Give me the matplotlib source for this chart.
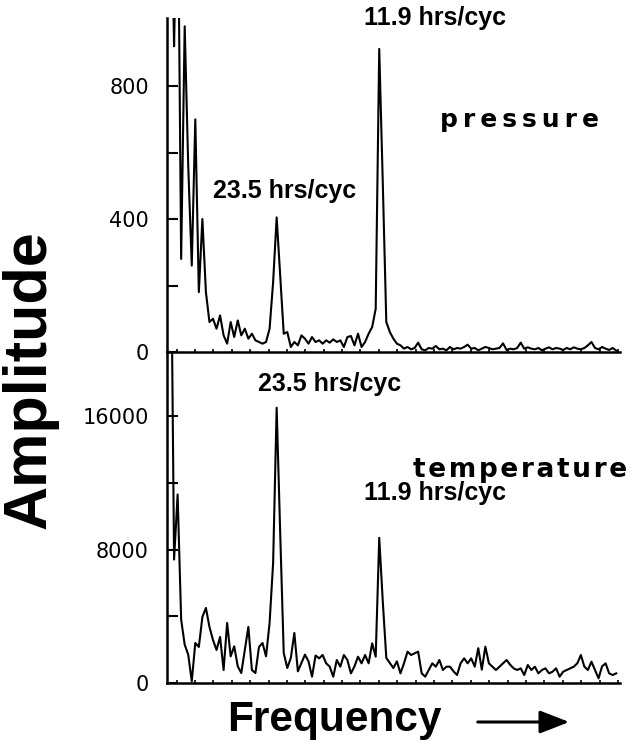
# pressure / temperature amplitude spectra, two stacked panels
import numpy as np
import matplotlib.pyplot as plt
from matplotlib.patches import FancyArrowPatch

# frequency bin index (peaks near bin 31 = 23.5 hrs/cyc, bin 60 = 11.9 hrs/cyc)
freq = np.arange(128)

pressure = [1500, 1500, 920, 1500, 280, 980, 560, 260, 700, 180,
            400, 180, 90, 100, 70, 110, 50, 25, 90, 45,
            95, 50, 70, 40, 55, 35, 30, 25, 30, 70,
            210, 405, 230, 55, 60, 15, 30, 20, 50, 40,
            25, 45, 30, 35, 25, 35, 28, 38, 30, 35,
            15, 45, 48, 20, 55, 15, 30, 55, 75, 130,
            912, 510, 90, 60, 40, 25, 20, 10, 15, 8,
            12, 28, 8, 5, 12, 10, 18, 8, 10, 5,
            15, 8, 12, 10, 15, 22, 10, 12, 5, 10,
            15, 12, 8, 10, 12, 26, 6, 10, 8, 12,
            28, 10, 14, 10, 8, 12, 5, 10, 14, 8,
            12, 10, 6, 12, 8, 14, 10, 8, 12, 20,
            30, 12, 8, 15, 10, 6, 12, 4]

temperature = [30000, 30000, 7400, 11300, 3800, 2300, 1700, 100, 2400, 2160,
               3960, 4500, 3360, 2580, 1980, 2760, 780, 3600, 1600, 2200,
               1000, 600, 1980, 3360, 780, 600, 2160, 2400, 1600, 3600,
               7200, 16500, 9000, 1800, 900, 1500, 3000, 700, 1200, 1700,
               1300, 380, 1650, 1480, 1680, 1180, 980, 380, 1380, 980,
               1680, 1380, 580, 1000, 1580, 1180, 1680, 1180, 2380, 1580,
               8700, 4900, 1500, 1200, 900, 1300, 580, 1180, 1880, 1680,
               1780, 1880, 580, 380, 780, 1180, 980, 1380, 780, 980,
               980, 700, 480, 1180, 1480, 1180, 1480, 980, 2090, 800,
               2180, 1180, 980, 780, 980, 1180, 1380, 1100, 880, 780,
               880, 480, 1080, 780, 980, 580, 780, 880, 580, 680,
               880, 380, 680, 780, 880, 980, 1180, 1680, 980, 780,
               1280, 780, 280, 1000, 1180, 580, 480, 580]

p_major = [0, 400, 800]
p_minor = [200, 600]
t_major = [0, 8000, 16000]
t_minor = [4000, 12000]

bold = dict(family='Liberation Sans', weight='bold', color='black')

fig = plt.figure(figsize=(6.35, 7.5), dpi=100)
ax1 = fig.add_axes([0.263, 0.5307, 0.713, 0.4453])
ax2 = fig.add_axes([0.263, 0.0893, 0.713, 0.4413])

panels = [(ax1, pressure, 1005, p_major, p_minor),
          (ax2, temperature, 19835, t_major, t_minor)]
for ax, vals, top, major, minor in panels:
    ax.plot(freq, vals, color='black', lw=1.5)
    ax.set_xlim(0, 128)
    ax.set_ylim(0, top)
    ax.spines['top'].set_visible(False)
    ax.spines['right'].set_visible(False)
    ax.spines['left'].set_linewidth(1.8)
    ax.spines['bottom'].set_linewidth(1.8)
    ax.set_yticks(major)
    ax.set_yticks(minor, minor=True)
    ax.tick_params(axis='y', which='both', direction='in', length=8,
                   width=1.5, labelsize=15, pad=13)
    ax.set_xticks(np.arange(2.7, 128, 5.2))
    ax.set_xticklabels([])
    ax.tick_params(axis='x', direction='in', length=2.5, width=1.2)
    ax.patch.set_alpha(0)

# peak labels
ax1.text(55.8, 1004, '11.9 hrs/cyc', fontsize=18, va='center', ha='left', **bold)
ax1.text(13.0, 484, '23.5 hrs/cyc', fontsize=18, va='center', ha='left', **bold)
ax1.text(77.2, 698, '\u200a\u200a'.join('pressure'), fontsize=18,
         va='center', ha='left', family='DejaVu Sans', weight='bold')
ax2.text(25.6, 17920, '23.5 hrs/cyc', fontsize=18, va='center', ha='left', **bold)
ax2.text(55.8, 11390, '11.9 hrs/cyc', fontsize=18, va='center', ha='left', **bold)
ax2.text(69.6, 12770, '\u200a'.join('temperature'), fontsize=19,
         va='center', ha='left', family='DejaVu Sans', weight='bold')

fig.text(30 / 635, 1 - 380 / 750, 'Amplitude', rotation=90, fontsize=44,
         ha='center', va='center', **bold)
fig.text(334 / 635, 1 - 720 / 750, 'Frequency', fontsize=30.5,
         ha='center', va='center', **bold)
fig.add_artist(FancyArrowPatch(
    (475 / 635, 1 - 722 / 750), (572 / 635, 1 - 722 / 750),
    transform=fig.transFigure, arrowstyle='-|>,head_length=0.9,head_width=0.35',
    mutation_scale=20, lw=2.2, color='black'))

fig.savefig('out.png', dpi=100)
